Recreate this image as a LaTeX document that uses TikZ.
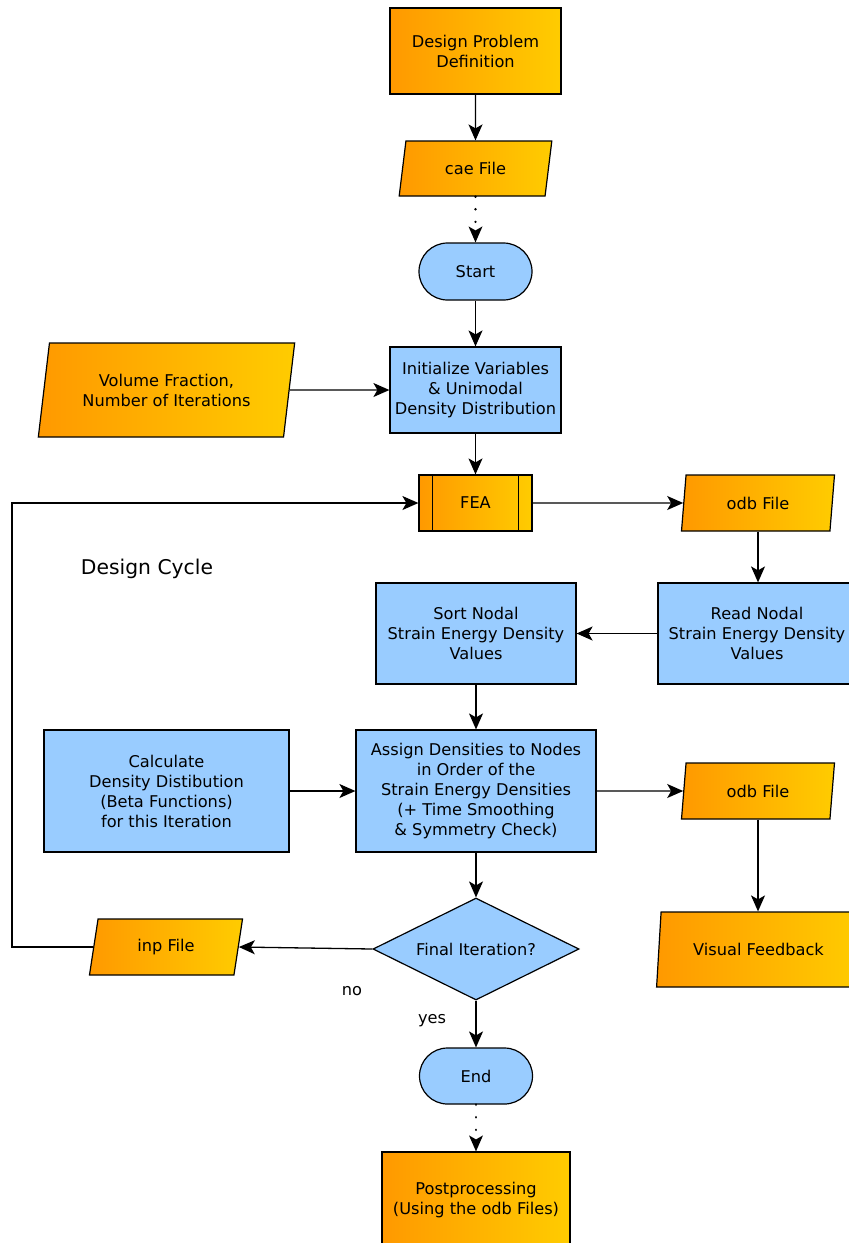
\documentclass[tikz,border=0pt]{standalone}
\usepackage{fontspec}
\setmainfont{DejaVu Sans}
\usetikzlibrary{shapes.geometric,shapes.misc,arrows.meta,calc}
\definecolor{orA}{HTML}{FF9900}
\definecolor{orB}{HTML}{FFCC00}
\definecolor{blu}{HTML}{99CCFF}
\tikzset{
  base/.style={draw=black, line width=1.2pt, align=center, inner sep=0pt,
    font=\fontsize{16.2}{20}\selectfont},
  proc/.style={base, rectangle, fill=blu},
  obox/.style={base, rectangle, left color=orA, right color=orB},
  term/.style={base, rounded rectangle, fill=blu},
  io/.style={base, trapezium, trapezium stretches=true, left color=orA, right color=orB},
  dec/.style={base, diamond, aspect=2, fill=blu},
  arr/.style={line width=1.3pt, -{Stealth[length=16pt,width=14pt,inset=4pt]}},
  dotarr/.style={line width=2.6pt, dash pattern=on 0.1pt off 12.5pt, line cap=round,
    -{Stealth[length=16pt,width=14pt,inset=4pt,line cap=butt,line width=0pt]}},
  lbl/.style={font=\fontsize{16.2}{20}\selectfont}
}
\begin{document}
\begin{tikzpicture}[x=1pt,y=-1pt]
\path[use as bounding box, clip] (0,0) rectangle (849,1243);
\fill[white] (0,0) rectangle (849,1243);

\node[obox, minimum width=171, minimum height=86] (dpd) at (475.5,51) {Design Problem\\Definition};
\node[io, minimum width=153, minimum height=55, trapezium left angle=76.7, trapezium right angle=103.3] (cae) at (475.5,168.5) {cae File};
\node[term, minimum width=113, minimum height=57] (start) at (475.5,271.5) {Start};
\node[proc, minimum width=171, minimum height=86] (init) at (475.5,390) {Initialize Variables\\\& Unimodal\\Density Distribution};
\node[io, minimum width=257, minimum height=94, trapezium left angle=76.2, trapezium right angle=103.8] (vf) at (166.5,390) {Volume Fraction,\\Number of Iterations};
\node[obox, minimum width=113, minimum height=56] (fea) at (475.5,503) {FEA};
\draw[line width=1.2pt] ([xshift=14]fea.north west) -- ([xshift=14]fea.south west);
\draw[line width=1.2pt] ([xshift=-14]fea.north east) -- ([xshift=-14]fea.south east);
\node[io, minimum width=154, minimum height=56, trapezium left angle=81, trapezium right angle=99] (odbA) at (758,503) {odb File};
\node[proc, minimum width=198, minimum height=101] (read) at (757,633.5) {Read Nodal\\Strain Energy Density\\Values};
\node[proc, minimum width=200, minimum height=101] (sort) at (476,633.5) {Sort Nodal\\Strain Energy Density\\Values};
\node[proc, minimum width=240, minimum height=122] (assign) at (476,791) {Assign Densities to Nodes\\in Order of the\\Strain Energy Densities\\(+ Time Smoothing\\\& Symmetry Check)};
\node[proc, minimum width=245, minimum height=122] (calc) at (166.5,791) {Calculate\\Density Distibution\\(Beta Functions)\\for this Iteration};
\node[io, minimum width=154, minimum height=56, trapezium left angle=81, trapezium right angle=99] (odbB) at (758,791) {odb File};
\node[io, minimum width=204, minimum height=75, trapezium left angle=76.5, trapezium right angle=103.5] (vis) at (758.5,949.5) {Visual Feedback};
\node[dec, minimum width=206, minimum height=102] (fin) at (476,949) {Final Iteration?};
\node[io, minimum width=154, minimum height=56, trapezium left angle=77, trapezium right angle=103] (inp) at (166,947) {inp File};
\node[term, minimum width=113, minimum height=56] (endn) at (476,1076) {End};
\node[obox, minimum width=188, minimum height=96] (post) at (476,1200) {Postprocessing\\(Using the odb Files)};

\node[font=\fontsize{20.3}{24}\selectfont] (cyc) at (147,569) {Design Cycle};
\node[lbl] (no) at (352,991) {no};
\node[lbl] (yes) at (432,1021) {yes};

\coordinate (loopc) at (12,503);

\draw[arr] (dpd.south) -- (cae.north);
\draw[dotarr] (cae.south) -- (start.north);
\draw[arr] (start.south) -- (init.north);
\draw[arr] (vf.east) -- (init.west);
\draw[arr] (init.south) -- (fea.north);
\draw[arr] (fea.east) -- (odbA.west);
\draw[arr] (odbA.south) -- (odbA.south |- read.north);
\draw[arr] (read.west) -- (sort.east);
\draw[arr] (sort.south) -- (assign.north);
\draw[arr] (calc.east) -- (assign.west);
\draw[arr] (assign.east) -- (odbB.west);
\draw[arr] (odbB.south) -- (odbB.south |- vis.north);
\draw[arr] (assign.south) -- (fin.north);
\draw[arr] (fin.west) -- (inp.east);
\draw[arr] (inp.west) -| (loopc) -- (fea.west);
\draw[arr] (fin.south) -- (endn.north);
\draw[dotarr] (endn.south) -- (post.north);
\end{tikzpicture}
\end{document}
